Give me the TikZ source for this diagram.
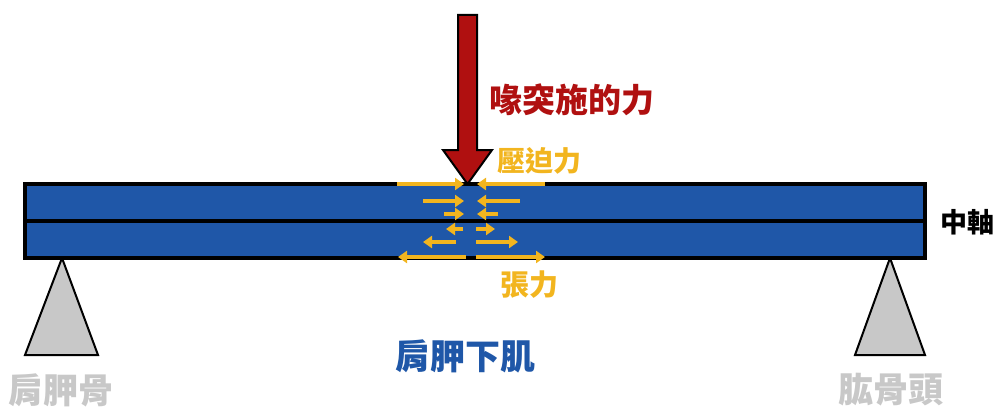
\documentclass[tikz,border=0pt]{standalone}
\usepackage{fontspec}
\setmainfont{Noto Sans CJK TC}
\usetikzlibrary{arrows.meta}
\definecolor{beamblue}{HTML}{1F57A8}
\definecolor{ylw}{HTML}{F2B51F}
\definecolor{dred}{HTML}{B01010}
\definecolor{gtri}{HTML}{C8C8C8}
\begin{document}
\begin{tikzpicture}[x=1pt,y=-1pt,
  ya/.style={ylw,line width=3.5pt,-{Triangle[length=9pt,width=12pt]}},
  lbl/.style={inner sep=0pt,anchor=west,font=\bfseries}]
\useasboundingbox (0,0) rectangle (1000,417);
% supports
\draw[fill=gtri,line width=2pt] (62,258) -- (98,355) -- (25,355) -- cycle;
\draw[fill=gtri,line width=2pt] (890,258) -- (925,355) -- (855,355) -- cycle;
% beam
\node[draw=black,fill=beamblue,line width=3.5pt,minimum width=900pt,minimum height=74pt,inner sep=0pt] (beam) at (475,221) {};
\draw[line width=3.5pt] (beam.west) -- (beam.east);
% arrows
\draw[ya] (397,184) -- (464,184); \draw[ya] (545,184) -- (477,184);
\draw[ya] (423,201) -- (464,201); \draw[ya] (520,201) -- (477,201);
\draw[ya] (444,214) -- (464,214); \draw[ya] (498,214) -- (477,214);
\draw[ya] (463,229) -- (446,229); \draw[ya] (476,229) -- (495,229);
\draw[ya] (456,242) -- (423,242); \draw[ya] (476,242) -- (518,242);
\draw[ya] (466,257) -- (398,257); \draw[ya] (476,257) -- (545,257);
% force arrow
\draw[fill=dred,line width=2pt] (458,15) -- (477,15) -- (477,150) -- (492,150) -- (467.5,184) -- (443,150) -- (458,150) -- cycle;
% labels
\node[lbl,dred,font=\fontsize{33}{36}\selectfont\bfseries] (f) at (489,100) {喙突施的力};
\node[lbl,ylw,font=\fontsize{28}{30}\selectfont\bfseries] (c) at (497,161) {壓迫力};
\node[lbl,ylw,font=\fontsize{29}{30}\selectfont\bfseries] (t) at (500,285) {張力};
\node[lbl,black,font=\fontsize{27}{30}\selectfont\bfseries] (ax) at (940,222) {中軸};
\node[lbl,beamblue,font=\fontsize{35}{38}\selectfont\bfseries] (m) at (395,356) {肩胛下肌};
\node[lbl,gtri,font=\fontsize{35}{38}\selectfont\bfseries] (s) at (8,390) {肩胛骨};
\node[lbl,gtri,font=\fontsize{35}{38}\selectfont\bfseries] (h) at (838,390) {肱骨頭};
\end{tikzpicture}
\end{document}
